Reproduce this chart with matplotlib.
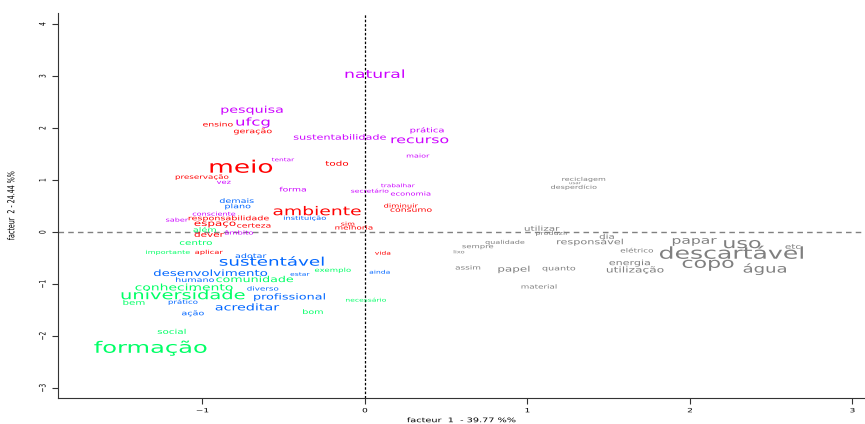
"""Correspondence analysis plane (factor 1 x factor 2) of the lexical classes."""

import matplotlib
matplotlib.use("Agg")
import matplotlib.pyplot as plt
from matplotlib.patheffects import AbstractPathEffect
from matplotlib.transforms import Affine2D

# Word coordinates on the factorial plane, one group per class
RED_WORDS = ["meio", "ambiente", "todo", "ensino", "geração", "preservação",
             "responsabilidade", "espaço", "certeza", "diminuir", "consumo",
             "sim", "melhoria", "dever", "aplicar", "vida"]
RED_X = [-0.763, -0.295, -0.172, -0.905, -0.689, -1.003, -0.837, -0.923,
         -0.683, 0.222, 0.283, -0.105, -0.068, -0.960, -0.960, 0.111]
RED_Y = [1.212, 0.385, 1.308, 2.058, 1.942, 1.058, 0.269, 0.173, 0.115,
         0.500, 0.423, 0.154, 0.077, -0.058, -0.385, -0.404]

MAG_WORDS = ["natural", "pesquisa", "ufcg", "sustentabilidade", "prática",
             "recurso", "maior", "tentar", "vez", "forma", "secretário",
             "trabalhar", "economia", "consciente", "saber", "âmbito"]
MAG_X = [0.062, -0.695, -0.689, -0.154, 0.382, 0.338, 0.326, -0.505, -0.868,
         -0.443, 0.031, 0.203, 0.283, -0.929, -1.157, -0.775]
MAG_Y = [3.019, 2.346, 2.115, 1.808, 1.962, 1.769, 1.462, 1.385, 0.962,
         0.808, 0.788, 0.885, 0.731, 0.346, 0.231, -0.019]

BLUE_WORDS = ["demais", "plano", "instituição", "adotar", "sustentável",
              "desenvolvimento", "estar", "humano", "diverso", "profissional",
              "prático", "acreditar", "ação", "ainda"]
BLUE_X = [-0.788, -0.782, -0.369, -0.702, -0.572, -0.948, -0.400, -1.046,
          -0.628, -0.462, -1.120, -0.726, -1.058, 0.092]
BLUE_Y = [0.596, 0.500, 0.269, -0.462, -0.596, -0.808, -0.808, -0.923,
          -1.096, -1.250, -1.346, -1.462, -1.558, -0.769]

GREEN_WORDS = ["além", "centro", "importante", "exemplo", "comunidade",
               "conhecimento", "universidade", "bem", "bom", "necessário",
               "social", "formação"]
GREEN_X = [-0.985, -1.040, -1.212, -0.197, -0.677, -1.114, -1.120, -1.422,
           -0.320, 0.006, -1.188, -1.317]
GREEN_Y = [0.038, -0.212, -0.385, -0.731, -0.923, -1.077, -1.231, -1.365,
           -1.538, -1.308, -1.923, -2.231]

GRAY_WORDS = ["reciclagem", "usar", "desperdício", "utilizar", "produzir",
              "dia", "responsável", "qualidade", "sempre", "lixo", "elétrico",
              "papar", "uso", "etc", "descartável", "copo", "água", "energia",
              "utilização", "assim", "papel", "quanto", "material"]
GRAY_X = [1.348, 1.292, 1.286, 1.089, 1.151, 1.489, 1.385, 0.862, 0.695,
          0.578, 1.674, 2.025, 2.320, 2.634, 2.258, 2.111, 2.462, 1.631,
          1.662, 0.634, 0.917, 1.194, 1.071]
GRAY_Y = [1.019, 0.942, 0.865, 0.058, -0.019, -0.096, -0.192, -0.192,
          -0.269, -0.385, -0.365, -0.154, -0.231, -0.288, -0.442, -0.596,
          -0.712, -0.596, -0.731, -0.692, -0.712, -0.692, -1.058]

# Font sizes (scaled from each word's chi2 in the class)
RED_SIZES = [19, 13.5, 7.5, 6.7, 6.9, 6.3, 6.9, 8.6, 6.7, 6, 6.7, 5.8, 6.3,
             7.5, 6, 5.5]
MAG_SIZES = [12.4, 10.3, 11.9, 8.1, 7.2, 11.4, 5.8, 5.3, 6, 6.7, 5.5, 5.3,
             6, 5.8, 5.8, 6]
BLUE_SIZES = [6.9, 6.9, 6, 6.9, 13.2, 9.6, 5.5, 6.9, 6.3, 9.2, 6.2, 10.3,
              6.9, 5.5]
GREEN_SIZES = [6.9, 7.5, 5.8, 6.2, 9.1, 10, 14, 7.4, 6.9, 5.5, 7.4, 17.4]
GRAY_SIZES = [5.8, 4, 5.8, 7.5, 5.8, 7.4, 8.1, 5.8, 6.1, 4.8, 6.4, 11.2, 16,
              7.5, 18.1, 15.9, 13, 8, 8.8, 6.4, 8.6, 6.9, 6.3]

XLABEL = "facteur  1  - 39.77 %%"
YLABEL = "facteur  2 - 24.44 %%"

classes = [
    (RED_WORDS, RED_X, RED_Y, RED_SIZES, "#FF0000"),
    (MAG_WORDS, MAG_X, MAG_Y, MAG_SIZES, "#CC00FF"),
    (BLUE_WORDS, BLUE_X, BLUE_Y, BLUE_SIZES, "#0066FF"),
    (GREEN_WORDS, GREEN_X, GREEN_Y, GREEN_SIZES, "#00FF66"),
    (GRAY_WORDS, GRAY_X, GRAY_Y, GRAY_SIZES, "#7F7F7F"),
]


class Squash(AbstractPathEffect):
    """Flatten glyphs vertically about their own centre (wide, low lettering)."""

    def __init__(self, sy=0.65):
        super().__init__()
        self.sy = sy

    def draw_path(self, renderer, gc, tpath, affine, rgbFace=None):
        ext = tpath.get_extents(affine)
        cy = (ext.y0 + ext.y1) / 2
        flat = Affine2D().translate(0, -cy).scale(1, self.sy).translate(0, cy)
        renderer.draw_path(gc, tpath, affine + flat, rgbFace)


SQUASH = [Squash(0.65)]

plt.rcParams["font.family"] = ["DejaVu Sans"]

fig = plt.figure(figsize=(8.65, 4.24), dpi=100)
ax = fig.add_axes([0.067, 0.061, 0.933, 0.908])
ax.set_xlim(-1.889, 3.077)
ax.set_ylim(-3.19, 4.21)

ax.axvline(0, color="black", lw=0.9, ls=(0, (2, 1.5)), zorder=1)
ax.axhline(0, color="#808080", lw=1.0, ls=(0, (4, 3)), zorder=1)

for words, xs, ys, sizes, color in classes:
    for w, x, y, s in zip(words, xs, ys, sizes):
        ax.text(x, y, w, color=color, fontsize=s, ha="center", va="center",
                zorder=2, path_effects=SQUASH)

for side in ("top", "right"):
    ax.spines[side].set_visible(False)
ax.spines["left"].set_color("#333333")
ax.spines["bottom"].set_color("#333333")

ax.set_xticks([-1, 0, 1, 2, 3])
ax.set_yticks([-3, -2, -1, 0, 1, 2, 3, 4])
ax.tick_params(axis="both", labelsize=6.5, length=4, width=0.8, color="#333333")
ax.tick_params(axis="x", pad=2)
ax.tick_params(axis="y", labelrotation=90)
for lab in ax.get_yticklabels():
    lab.set_va("center")
    lab.set_path_effects(SQUASH)
for lab in ax.get_xticklabels():
    lab.set_path_effects(SQUASH)

ax.set_xlabel(XLABEL, fontsize=7, labelpad=0, path_effects=SQUASH)
ax.set_ylabel(YLABEL, fontsize=7, labelpad=16, path_effects=SQUASH)

fig.savefig("out.png", dpi=100)
